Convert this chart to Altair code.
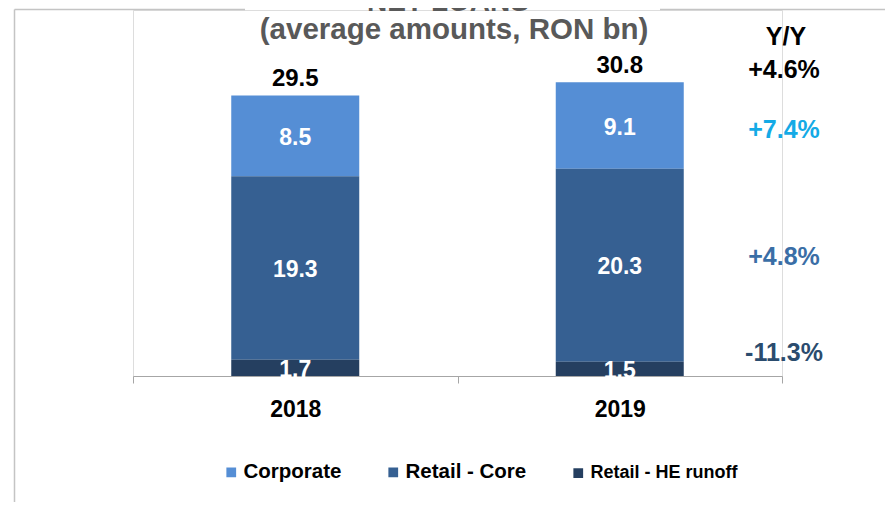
import altair as alt
import pandas as pd

# ---- data ----
years = ["2018", "2019"]
segments = ["Corporate", "Retail - Core", "Retail - HE runoff"]
corporate = [8.5, 9.1]
retail_core = [19.3, 20.3]
retail_he_runoff = [1.7, 1.5]
totals = [29.5, 30.8]
yoy_header = "Y/Y"
yoy_total = "+4.6%"
yoy_corporate = "+7.4%"
yoy_core = "+4.8%"
yoy_runoff = "-11.3%"
title_main = "NET LOANS"
title_sub = "(average amounts, RON bn)"

seg_colors = ["#558ED5", "#366092", "#253F60"]
yoy_colors = ["#14AAE6", "#3A6EA6", "#2B4C6E"]

rows = []
for i, yr in enumerate(years):
    for order, (seg, vals) in zip([2, 1, 0], zip(segments, [corporate, retail_core, retail_he_runoff])):
        rows.append({"year": yr, "segment": seg, "value": vals[i], "ord": order})
df = pd.DataFrame(rows)
tot_df = pd.DataFrame({"year": years, "total": totals})

W, H = 649, 366
FONT = "Liberation Sans"

x_enc = alt.X(
    "year:N",
    scale=alt.Scale(domain=years, paddingInner=0, paddingOuter=0),
    axis=alt.Axis(
        title=None, labelAngle=0, labelFontSize=23, labelFontWeight="bold",
        labelColor="#000000", labelFont=FONT, labelPadding=15,
        domainColor="#A6A6A6", domainWidth=1, tickColor="#A6A6A6",
        tickSize=7, tickWidth=1, tickBand="extent", grid=False,
    ),
)
y_scale = alt.Scale(domain=[0, 38.5], nice=False, zero=True)

bars = alt.Chart(df).mark_bar(size=128).encode(
    x=x_enc,
    y=alt.Y("value:Q", stack="zero", scale=y_scale, axis=None),
    color=alt.Color(
        "segment:N",
        scale=alt.Scale(domain=segments, range=seg_colors),
        legend=alt.Legend(
            title=None, orient="none", direction="horizontal",
            legendX=88, legendY=452, padding=0, offset=0,
            symbolType="square", symbolSize=95, symbolStrokeWidth=0,
            labelFont=FONT, labelFontWeight="bold", labelColor="#000000",
            labelFontSize={"expr": "datum.label == 'Retail - HE runoff' ? 18 : 20.5"},
            labelOffset=2, columnPadding=41, labelLimit=300,
        ),
    ),
    order=alt.Order("ord:Q", sort="ascending"),
)

inner = alt.Chart(df).transform_stack(
    stack="value", groupby=["year"], as_=["v0", "v1"],
    sort=[alt.SortField("ord", order="ascending")],
).transform_calculate(
    mid="(datum.v0 + datum.v1) / 2"
).mark_text(
    color="white", fontSize=23, fontWeight="bold", font=FONT, baseline="middle", dy=2
).encode(
    x=alt.X("year:N"),
    y=alt.Y("mid:Q", scale=y_scale, axis=None),
    text=alt.Text("value:Q", format=".1f"),
)

tot = alt.Chart(tot_df).mark_text(
    color="#000000", fontSize=24, fontWeight="bold", font=FONT, baseline="alphabetic", dy=-10
).encode(
    x=alt.X("year:N"),
    y=alt.Y("total:Q", scale=y_scale, axis=None),
    text=alt.Text("total:Q", format=".1f"),
)


def label(txt, xpx, ypx, color, size, baseline="middle"):
    return alt.Chart(pd.DataFrame({"t": [txt]})).mark_text(
        color=color, fontSize=size, fontWeight="bold", font=FONT,
        align="center", baseline=baseline,
    ).encode(x=alt.value(xpx), y=alt.value(ypx), text="t:N")


def rule(x1, x2, y1, y2):
    return alt.Chart(pd.DataFrame({"r": [0]})).mark_rule(
        color="#C4C4C4", strokeWidth=1.5
    ).encode(x=alt.value(x1), x2=alt.value(x2), y=alt.value(y1), y2=alt.value(y2))


borders = [
    rule(-118.5, -118.5, -0.5, 500),
    rule(-118.5, 112, -0.5, -0.5),
    rule(527, 760, -0.5, -0.5),
]

texts = [
    label(title_main, 315, 0.5, "#595959", 28, baseline="alphabetic"),
    label(title_sub, 321, 20, "#595959", 29.5),
    label(yoy_header, 653, 27, "#000000", 25),
    label(yoy_total, 651, 60, "#000000", 25),
    label(yoy_corporate, 651, 120, yoy_colors[0], 25),
    label(yoy_core, 651, 247, yoy_colors[1], 25),
    label(yoy_runoff, 651, 343, yoy_colors[2], 25),
]

chart = alt.layer(bars, inner, tot, *borders, *texts).properties(
    width=W, height=H,
    autosize=alt.AutoSizeParams(type="none"),
    padding={"left": 125, "top": 2, "right": 103, "bottom": 126},
).configure_view(stroke=None).configure(font=FONT)

chart.save("out.html", embed_options={"renderer": "svg", "actions": False})
